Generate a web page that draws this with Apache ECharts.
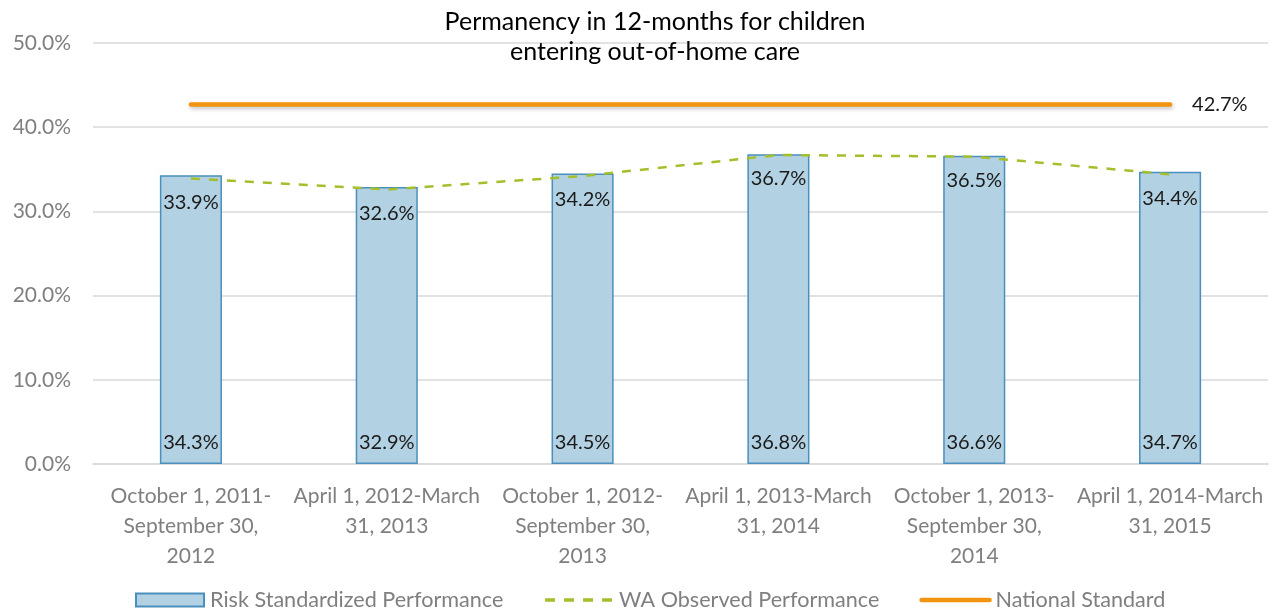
<!DOCTYPE html>
<html>
<head>
<meta charset="utf-8">
<script src="https://cdn.jsdelivr.net/npm/echarts@6/dist/echarts.min.js"></script>
<style>
  html, body { margin: 0; padding: 0; background: #fff; }
  #chart { width: 1277px; height: 612px; }
</style>
</head>
<body>
<div id="chart"></div>
<script>
const periods = [
  'October 1, 2011-\nSeptember 30,\n2012',
  'April 1, 2012-March\n31, 2013',
  'October 1, 2012-\nSeptember 30,\n2013',
  'April 1, 2013-March\n31, 2014',
  'October 1, 2013-\nSeptember 30,\n2014',
  'April 1, 2014-March\n31, 2015'
];
const riskStandardized = [34.3, 32.9, 34.5, 36.8, 36.6, 34.7];
const waObserved = [33.9, 32.6, 34.2, 36.7, 36.5, 34.4];
const nationalStandard = [42.7, 42.7, 42.7, 42.7, 42.7, 42.7];

const font = 'Lato, "Open Sans", sans-serif';
const pct = v => v.toFixed(1) + '%';

const chart = echarts.init(document.getElementById('chart'));
chart.setOption({
  animation: false,
  textStyle: { fontFamily: font },
  title: {
    text: 'Permanency in 12-months for children\nentering out-of-home care',
    left: 650,
    textAlign: 'center',
    top: 2,
    textStyle: { fontFamily: font, fontSize: 25, fontWeight: 'normal', color: '#000', lineHeight: 30 }
  },
  grid: { left: 93, right: 9, top: 43, bottom: 148 },
  xAxis: {
    type: 'category',
    data: periods,
    axisLine: { lineStyle: { color: '#d9d9d9', width: 1.5 } },
    axisTick: { show: false },
    axisLabel: { color: '#7f7f7f', fontSize: 21, lineHeight: 30, margin: 17, interval: 0 }
  },
  yAxis: {
    type: 'value',
    min: 0, max: 50, interval: 10,
    axisLine: { show: false },
    axisTick: { show: false },
    splitLine: { lineStyle: { color: '#d9d9d9', width: 1.5 } },
    axisLabel: { color: '#7f7f7f', fontSize: 21, margin: 22, formatter: v => v.toFixed(1) + '%' }
  },
  legend: {
    top: 584,
    left: 130,
    itemGap: 40,
    itemWidth: 68,
    itemHeight: 13,
    textStyle: { color: '#7f7f7f', fontSize: 21.6, fontFamily: font, padding: [0, 0, 0, 1] },
    data: [
      { name: 'Risk Standardized Performance', icon: 'rect' },
      { name: 'WA Observed Performance', itemStyle: { opacity: 0 },
        lineStyle: { width: 3.5, type: [10, 9] } },
      { name: 'National Standard', itemStyle: { opacity: 0 },
        lineStyle: { width: 4.5, shadowBlur: 0, shadowOffsetX: 0, shadowOffsetY: 0 } }
    ]
  },
  series: [
    {
      name: 'Risk Standardized Performance',
      type: 'bar',
      data: riskStandardized,
      barWidth: '31.7%',
      itemStyle: { color: '#b2d1e2', borderColor: '#4a8fbd', borderWidth: 1.5 },
      label: {
        show: true, position: 'insideBottom', distance: 11,
        color: '#1a1a1a', fontSize: 20, formatter: p => pct(p.value)
      },
      z: 1
    },
    {
      name: 'WA Observed Performance',
      type: 'line',
      data: waObserved,
      symbol: 'circle',
      symbolSize: 0,
      showSymbol: true,
      lineStyle: { color: '#a4bf2c', width: 2.5, type: [9, 9] },
      itemStyle: { color: '#a4bf2c' },
      label: {
        show: true, position: 'bottom', distance: 14,
        color: '#1a1a1a', fontSize: 20, formatter: p => pct(p.value)
      },
      labelLayout: { hideOverlap: false },
      z: 3
    },
    {
      name: 'National Standard',
      type: 'line',
      data: nationalStandard,
      symbol: 'none',
      lineStyle: {
        color: '#f39410', width: 4.5, cap: 'round',
        shadowColor: 'rgba(0,0,0,0.25)', shadowBlur: 4, shadowOffsetY: 2, shadowOffsetX: 1
      },
      itemStyle: { color: '#f39410' },
      endLabel: {
        show: true, distance: 22, color: '#1a1a1a', fontSize: 20,
        formatter: p => pct(p.value)
      },
      z: 4
    }
  ]
});
</script>
</body>
</html>
